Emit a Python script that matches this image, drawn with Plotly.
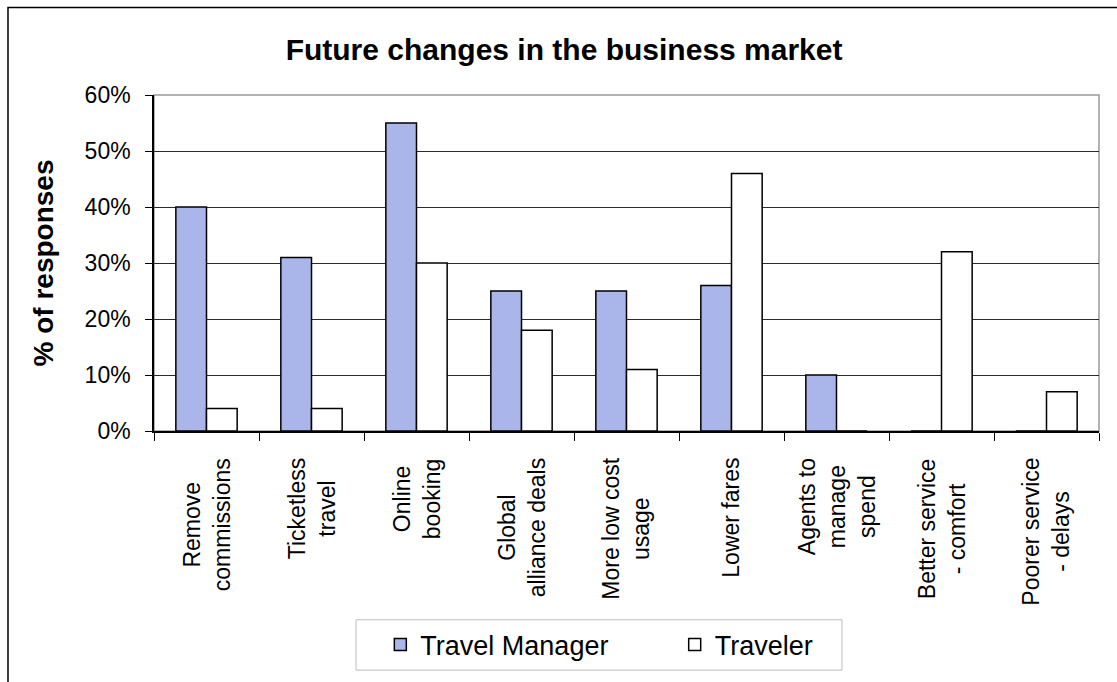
import plotly.graph_objects as go

# Survey categories (line breaks follow the printed labels)
categories = [
    "Remove<br>commissions",
    "Ticketless<br>travel",
    "Online<br>booking",
    "Global<br>alliance deals",
    "More low cost<br>usage",
    "Lower fares",
    "Agents to<br>manage<br>spend",
    "Better service<br>- comfort",
    "Poorer service<br>- delays",
]
category_keys = [f"c{i}" for i in range(len(categories))]

# Share of responses (%)
travel_manager = [40, 31, 55, 25, 25, 26, 10, 0, 0]
traveler = [4, 4, 30, 18, 11, 46, 0, 32, 7]

y_ticks = [0, 10, 20, 30, 40, 50, 60]
y_tick_labels = ["0%", "10%", "20%", "30%", "40%", "50%", "60%"]

FONT = "Liberation Sans, Arial, sans-serif"

fig = go.Figure()
fig.add_trace(go.Bar(
    x=category_keys, y=travel_manager, name="Travel Manager",
    marker=dict(color="#AAB6EA", line=dict(color="black", width=1.5)),
    legend="legend",
))
fig.add_trace(go.Bar(
    x=category_keys, y=traveler, name="Traveler",
    marker=dict(color="white", line=dict(color="black", width=1.5)),
    legend="legend2",
))

# Category labels under the axis, lines centred on each other
annotations = []
for key, label in zip(category_keys, categories):
    annotations.append(dict(
        x=key, xref="x", y=-0.075, yref="paper",
        text=label, textangle=-90, showarrow=False,
        xanchor="center", yanchor="top", align="center",
        font=dict(family=FONT, size=23, color="black"),
    ))

# Y axis title
annotations.append(dict(
    x=-0.117, xref="paper", y=0.5, yref="paper",
    text="<b>% of responses</b>", textangle=-90, showarrow=False,
    xanchor="center", yanchor="middle",
    font=dict(family=FONT, size=28, color="black"),
))

shapes = [
    # outer chart frame
    dict(type="rect", xref="paper", yref="paper",
         x0=-0.1545, x1=1.06, y0=-0.8, y1=1.2603,
         line=dict(color="black", width=1.5), fillcolor="rgba(0,0,0,0)", layer="below"),
    # plot area border
    dict(type="rect", xref="paper", yref="paper",
         x0=0, x1=1, y0=0, y1=1,
         line=dict(color="#9a9a9a", width=1.5), fillcolor="rgba(0,0,0,0)", layer="below"),
    # legend box
    dict(type="rect", xref="paper", yref="paper",
         x0=0.2138, x1=0.728, y0=-0.7118, y1=-0.5618,
         line=dict(color="#BDBDBD", width=1), fillcolor="white", layer="below"),
]

legend_common = dict(
    orientation="h", yanchor="middle", y=-0.637, xanchor="left",
    bgcolor="rgba(0,0,0,0)", borderwidth=0,
    font=dict(family=FONT, size=27, color="black"),
)

fig.update_layout(
    width=1117, height=682,
    margin=dict(l=154, r=18, t=95, b=247),
    paper_bgcolor="white", plot_bgcolor="white",
    barmode="group", bargap=0.416, bargroupgap=0,
    title=dict(
        text="<b>Future changes in the business market</b>",
        x=0.505, xref="container", xanchor="center",
        y=0.928, yref="container", yanchor="middle",
        font=dict(family=FONT, size=30, color="black"),
    ),
    xaxis=dict(
        type="category", tickson="boundaries", ticks="outside", ticklen=8,
        tickcolor="black", tickwidth=1, showticklabels=False,
        showgrid=False, showline=True, linecolor="black", linewidth=1.5,
        zeroline=False,
    ),
    yaxis=dict(
        range=[0, 60], tickmode="array", tickvals=y_ticks, ticktext=y_tick_labels,
        ticks="outside", ticklen=7, tickcolor="black", tickwidth=1,
        ticklabelstandoff=10,
        showgrid=True, gridcolor="#2a2a2a", gridwidth=1,
        showline=True, linecolor="black", linewidth=1.5, zeroline=False,
        tickfont=dict(family=FONT, size=23, color="black"),
    ),
    legend=dict(x=0.2395, **legend_common),
    legend2=dict(x=0.551, **legend_common),
    annotations=annotations,
    shapes=shapes,
    showlegend=True,
)

fig.write_html("out.html")
